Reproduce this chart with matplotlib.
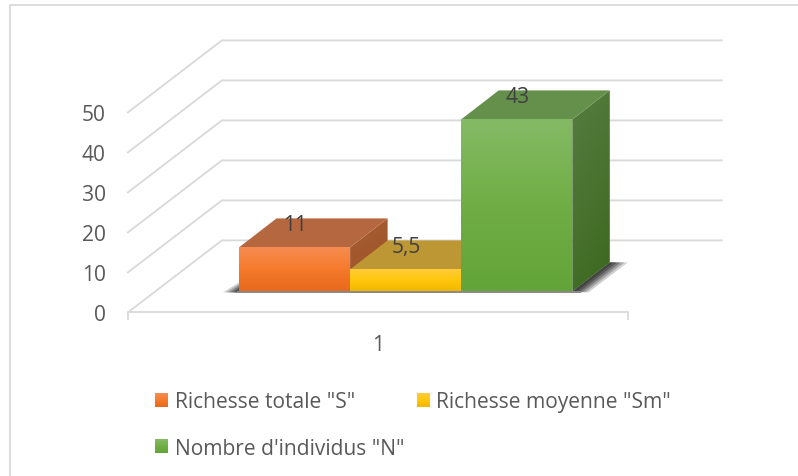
import numpy as np
import matplotlib
matplotlib.use("Agg")
import matplotlib.pyplot as plt
from matplotlib.patches import Polygon, Rectangle
from matplotlib.colors import LinearSegmentedColormap
from matplotlib.legend_handler import HandlerBase
from matplotlib.lines import Line2D

plt.rcParams['font.family'] = ['Open Sans', 'DejaVu Sans']

categories = ['Richesse totale "S"', 'Richesse moyenne "Sm"', "Nombre d'individus \"N\""]
values = [11, 5.5, 43]
value_labels = ['11', '5,5', '43']
y_ticks = [0, 10, 20, 30, 40, 50]
x_label = '1'

front_colors = [['#F68C50', '#F57A2C', '#E8691B'],
                ['#FFCB3A', '#FFC60C', '#F2B800'],
                ['#84BA65', '#70AE45', '#63A438']]
top_colors = ['#B5683F', '#BD9734', '#64904B']
side_colors = [['#A75F35', '#9C5022'],
               ['#96751F', '#8A6A14'],
               ['#567D40', '#3C681F']]

W, H = 798, 477
FS = 15.1
fig = plt.figure(figsize=(W / 100, H / 100), dpi=100)
ax = fig.add_axes([0, 0, 1, 1])

PX_X = 111.1      # pixels per category unit
PX_Y = 4.0        # pixels per value unit
X0_PX, Y0_PX = 239, 313.4
ax.set_xlim(-X0_PX / PX_X, (W - X0_PX) / PX_X)
ax.set_ylim((Y0_PX - H) / PX_Y, Y0_PX / PX_Y)
ax.axis('off')

GRID = '#D9D9D9'
TEXT = '#595959'
WALL_DX, WALL_DY = 94 / PX_X, 72 / PX_Y
BAR_DX, BAR_DY = 37.5 / PX_X, 29 / PX_Y
BASE = 21 / PX_Y
AX_L, AX_R = -1.0, 3.5


def gradient(poly_pts, colors, zorder, horizontal_mix=False):
    pts = np.array(poly_pts)
    cmap = LinearSegmentedColormap.from_list('g', colors)
    if horizontal_mix:
        g = np.linspace(0, 1, 64)[:, None] * 0.75 + np.linspace(0, 1, 32)[None, :] * 0.25
    else:
        g = np.linspace(0, 1, 64)[:, None]
    ext = [pts[:, 0].min(), pts[:, 0].max(), pts[:, 1].min(), pts[:, 1].max()]
    im = ax.imshow(g, cmap=cmap, extent=ext, origin='upper', aspect='auto',
                   zorder=zorder, interpolation='bilinear', vmin=0, vmax=1)
    clip = Polygon(pts, closed=True, transform=ax.transData, fc='none', ec='none')
    ax.add_patch(clip)
    im.set_clip_path(clip)


# walls and floor
for v in y_ticks:
    ax.plot([AX_L, AX_L + WALL_DX, AX_R + WALL_DX], [v, v + WALL_DY, v + WALL_DY],
            color=GRID, lw=1.3, zorder=1, solid_joinstyle='miter')
    ax.text(AX_L - 22 / PX_X, v + 0.2, str(v), ha='right', va='center_baseline',
            fontsize=FS, color=TEXT, zorder=6)

# front axis with end ticks
tick_len = 7 / PX_Y
ax.plot([AX_L, AX_L, AX_R, AX_R], [-tick_len, 0, 0, -tick_len], color=GRID, lw=1.3, zorder=1)
ax.text((AX_L + AX_R) / 2, -30 / PX_Y, x_label, ha='center', va='center_baseline',
        fontsize=FS, color=TEXT)

# frame of the chart area
ax.add_line(Line2D([10 / W, 10 / W, 1], [0, 1 - 6 / H, 1 - 6 / H], transform=fig.transFigure,
                   color=GRID, lw=1.3, zorder=1))

# floor shadow
n = len(values)
for grow, alpha in [(1.0, 0.22), (0.8, 0.28), (0.6, 0.35), (0.4, 0.45), (0.2, 0.5)]:
    sx = 18 * grow / PX_X
    ax.add_patch(Polygon([(n, BASE), (n + BAR_DX, BASE + BAR_DY),
                          (n + BAR_DX + sx, BASE + BAR_DY),
                          (n + sx * 0.9, BASE - 1 / PX_Y)],
                         fc='#303030', ec='none', alpha=alpha, zorder=2))
    ax.add_patch(Polygon([(0, BASE + 9 * grow / PX_Y), (-16 * grow / PX_X, BASE - 1 / PX_Y),
                          (0, BASE - 1 / PX_Y)],
                         fc='#303030', ec='none', alpha=alpha, zorder=2))
ax.add_patch(Rectangle((-0.02, BASE - 1.6 / PX_Y), n + 0.1, 1.6 / PX_Y,
                       fc='#8A8A8A', ec='none', zorder=2))

# bars
for i, (val, label) in enumerate(zip(values, value_labels)):
    z = 3 + i * 0.1
    y0, y1 = BASE, BASE + val
    gradient([(i + 1, y0), (i + 1 + BAR_DX, y0 + BAR_DY),
              (i + 1 + BAR_DX, y1 + BAR_DY), (i + 1, y1)], side_colors[i], z, True)
    ax.add_patch(Polygon([(i, y1), (i + 1, y1), (i + 1 + BAR_DX, y1 + BAR_DY), (i + BAR_DX, y1 + BAR_DY)],
                         fc=top_colors[i], ec='none', zorder=z + 0.01))
    gradient([(i, y0), (i + 1, y0), (i + 1, y1), (i, y1)], front_colors[i], z + 0.02)
    ax.text(i + 0.5 + BAR_DX / 2 - 0.165, y1 + 25 / PX_Y, label, ha='center', va='center_baseline',
            fontsize=FS, color='#404040', zorder=6)


# legend with gradient swatches
class GradHandler(HandlerBase):
    def create_artists(self, legend, orig, xd, yd, width, height, fontsize, trans):
        cols = orig.grad
        cmap = LinearSegmentedColormap.from_list('s', cols)
        size = 14
        strips = []
        for k in range(size):
            strips.append(Rectangle((-xd, -yd + height / 2 - size * 0.36 + (size - 1 - k) * 0.72),
                                    9.6, 0.8, fc=cmap(k / (size - 1)), ec='none',
                                    transform=trans))
        return strips


handles = []
for c, f in zip(categories, front_colors):
    h = Rectangle((0, 0), 1, 1, label=c)
    h.grad = f
    handles.append(h)
order = [0, 2, 1]
leg = ax.legend([handles[k] for k in order], [categories[k] for k in order],
                handler_map={Rectangle: GradHandler()}, ncol=2, frameon=False,
                loc='upper left', bbox_to_anchor=(155 / W, 1 - 392 / H), bbox_transform=fig.transFigure,
                borderaxespad=0, borderpad=0, handlelength=0.63, handleheight=0.7,
                handletextpad=0.3, columnspacing=0.6, labelspacing=1.22,
                labelcolor=TEXT, prop={'size': FS})
leg.set_zorder(7)

ax.set_xlim(-X0_PX / PX_X, (W - X0_PX) / PX_X)
ax.set_ylim((Y0_PX - H) / PX_Y, Y0_PX / PX_Y)
fig.savefig('out.png', dpi=100, facecolor='white')
